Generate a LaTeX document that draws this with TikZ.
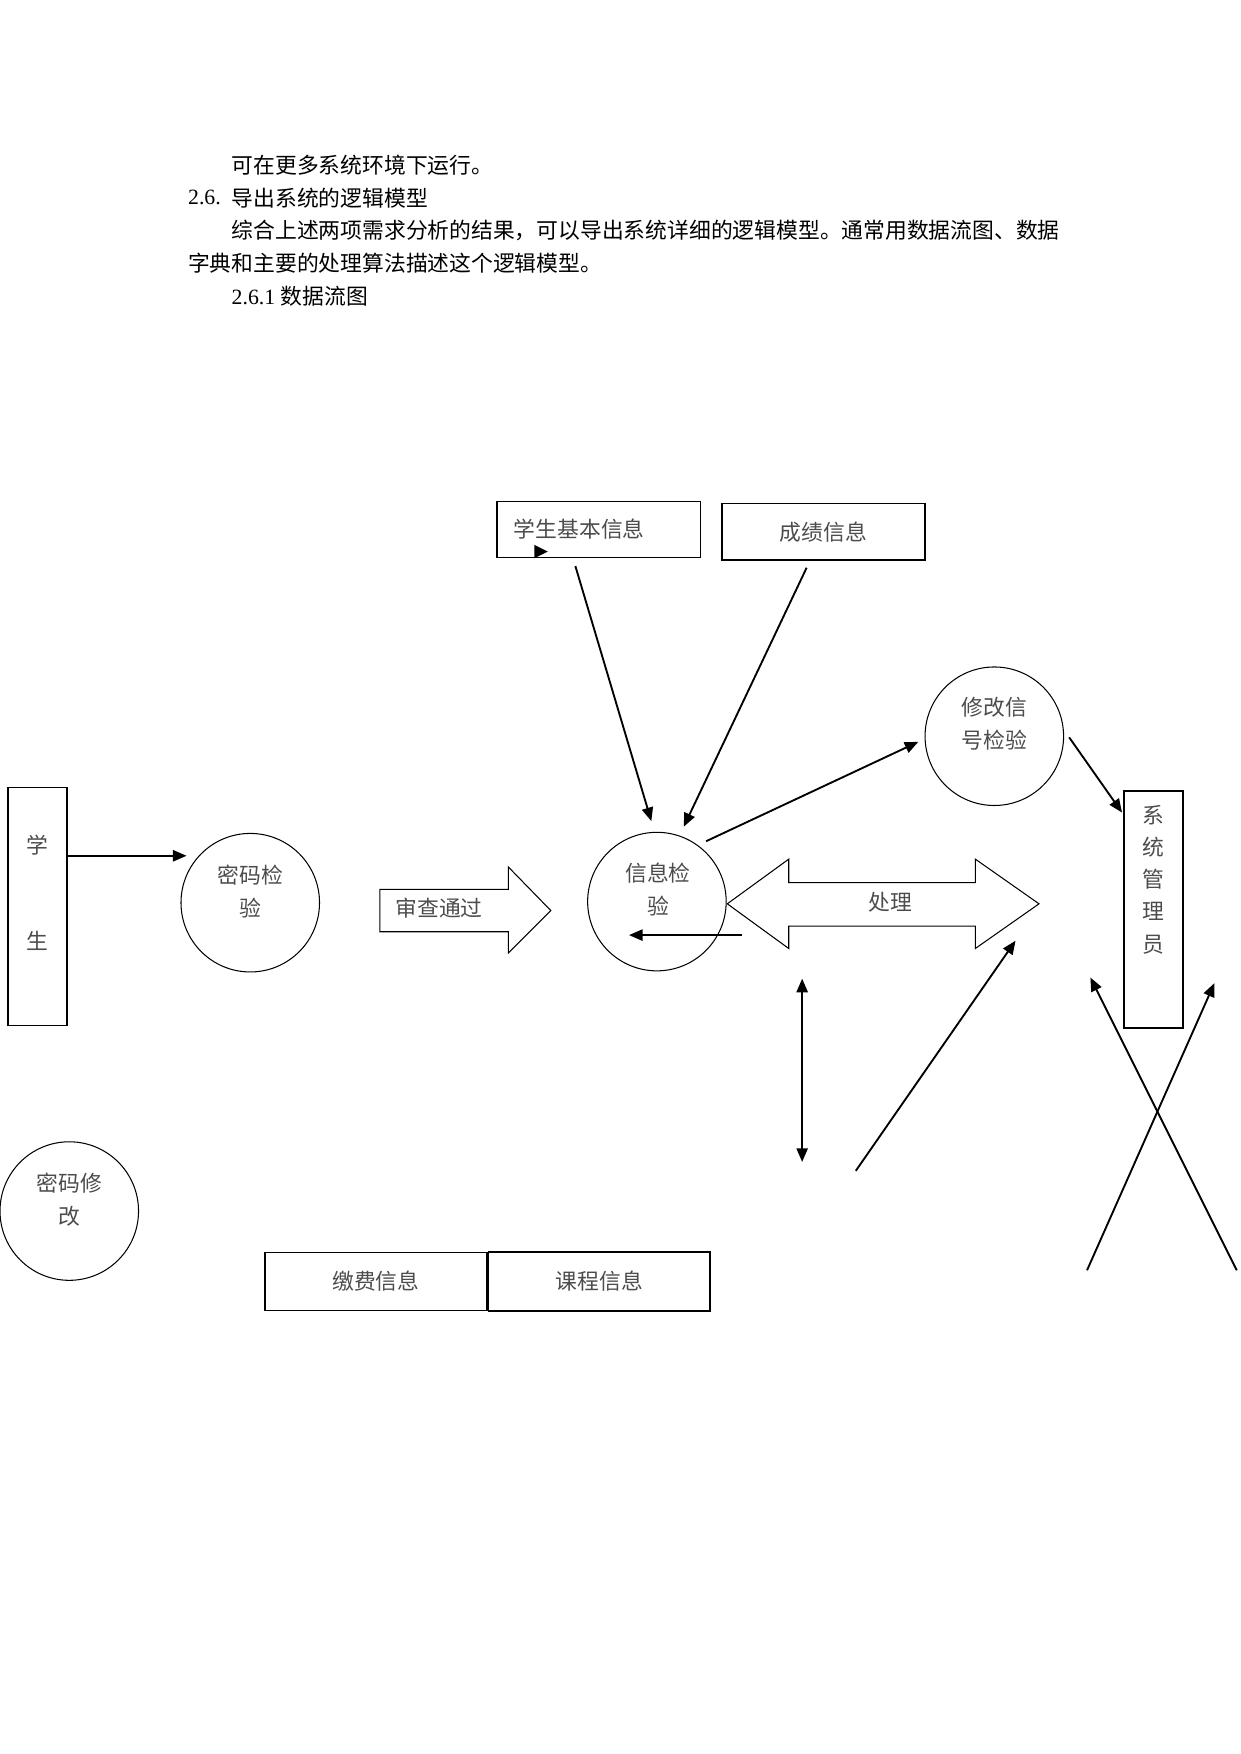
\documentclass[tikz,border=0pt]{standalone}
\usepackage{fontspec}
\setmainfont{Liberation Serif}
\newfontfamily\cjk{Noto Sans CJK SC}
\usetikzlibrary{calc,positioning,arrows.meta}
\newcommand\upx{0.018919cm}

\begin{document}
\begin{tikzpicture}[x=0.018919cm, y=-0.018919cm,
        >={Triangle[length=2.3mm,width=1.9mm]},
        body/.style={anchor=west, inner sep=0pt, font=\cjk\fontsize{10.5pt}{16pt}\selectfont},
        lbl/.style={inner sep=0pt, align=center, text=black!70, font=\cjk\fontsize{10.5pt}{16pt}\selectfont},
        store/.style={draw, rectangle, line width=0.75pt, lbl},
        proc/.style={draw, circle, line width=0.5pt, minimum size=124*\upx, inner sep=0pt},
        flow/.style={->, line width=0.9pt},
        fat/.style={draw, line width=0.5pt}]
        \useasboundingbox (0,0) rectangle (1110,1570);

        % text above the diagram
        \node[body] (t1) at (207,148) {可在更多系统环境下运行。};
        \node[body] (t2n) at (168,177) {\rmfamily 2.6.};
        \node[body] (t2) at (207,177) {导出系统的逻辑模型};
        \node[body] (t3) at (207,206) {综合上述两项需求分析的结果，可以导出系统详细的逻辑模型。通常用数据流图、数据};
        \node[body] (t4) at (168,236) {字典和主要的处理算法描述这个逻辑模型。};
        \node[body] (t5) at (207,265) {{\rmfamily 2.6.1 }数据流图};

        % data stores
        \node[store, minimum width=182*\upx, minimum height=50*\upx, text width=152*\upx, align=left] (sbi) at (536,474) {学生基本信息};
        \fill ($(sbi.south west)+(34,-12)$) -- ++(12,6) -- ++(-12,6) -- cycle;
        \node[store, minimum width=182*\upx, minimum height=51*\upx] (cjxx) at (737,476) {成绩信息};
        \node[store, minimum width=199*\upx, minimum height=52*\upx] (jfxx) at (336.5,1147) {缴费信息};
        \node[store, minimum width=198*\upx, minimum height=53*\upx, right=0pt of jfxx] (kcxx) {课程信息};

        % outside entities
        \node[store, minimum width=53*\upx, minimum height=213*\upx] (xs) at (33.5,811.5) {};
        \node[lbl] (xs1) at ($(xs.north)+(0,52)$) {学};
        \node[lbl] (xs2) at ($(xs.north)+(0,138)$) {生};
        \node[store, minimum width=53*\upx, minimum height=212*\upx] (gly) at (1032.5,814) {};
        \node[lbl, font=\cjk\fontsize{10.5pt}{15.5pt}\selectfont] (glyt) at ($(gly.north)+(0,80)$) {系\\统\\管\\理\\员};

        % processes
        \node[proc] (mmjy) at (224,808) {};
        \node[lbl] (mmjyt) at ($(mmjy)+(0,-10)$) {密码检\\验};
        \node[proc] (xxjy) at (588,807) {};
        \node[lbl] (xxjyt) at ($(xxjy)+(1,-11)$) {信息检\\验};
        \node[proc] (xgxh) at (890,659) {};
        \node[lbl] (xgxht) at ($(xgxh)+(0,-11)$) {修改信\\号检验};
        \node[proc] (mmxg) at (62,1084) {};
        \node[lbl] (mmxgt) at ($(mmxg)+(0,-10)$) {密码修\\改};

        % block arrows
        \draw[fat] (340,796) -- (455,796) -- (455,776) -- (493,815) -- (455,853) -- (455,834) -- (340,834) -- cycle;
        \node[lbl] (scjt) at (393,813) {审查通过};
        \draw[fat] (651,809) -- (706,769) -- (706,790) -- (873,790) -- (873,769) -- (930,809) -- (873,849) -- (873,829) -- (706,829) -- (706,849) -- cycle;
        \node[lbl] (cl) at (797,808) {处理};

        % flows
        \draw[flow] ($(xs.east)+(0,-45.5)$) -- ($(mmjy)+(-57,-42)$);
        \draw[flow] ($(sbi.south)+(-21,7)$) -- ($(xxjy)+(-5,-72)$);
        \draw[flow] ($(cjxx.south)+(-15,6)$) -- ($(xxjy)+(24,-67)$);
        \draw[flow] ($(xxjy)+(44,-54)$) -- ($(xgxh)+(-68,5)$);
        \draw[flow] ($(xgxh)+(67,1)$) -- ($(gly.north west)+(-1,20)$);
        \draw[flow] ($(xxjy)+(76,30)$) -- ($(xxjy)+(-25,30)$);

        \coordinate (v1) at (718,876);
        \coordinate (v2) at (718,1040);
        \coordinate (d1) at (766,1048);
        \coordinate (d2) at (909,842);
        \coordinate (c1) at (973,1137);
        \coordinate (c2) at (1087,880);
        \coordinate (c3) at (1107,1137);
        \coordinate (c4) at (976,875);
        \draw[flow, <->] (v1) -- (v2);
        \draw[flow] (d1) -- (d2);
        \draw[flow] (c1) -- (c2);
        \draw[flow] (c3) -- (c4);
\end{tikzpicture}
\end{document}
